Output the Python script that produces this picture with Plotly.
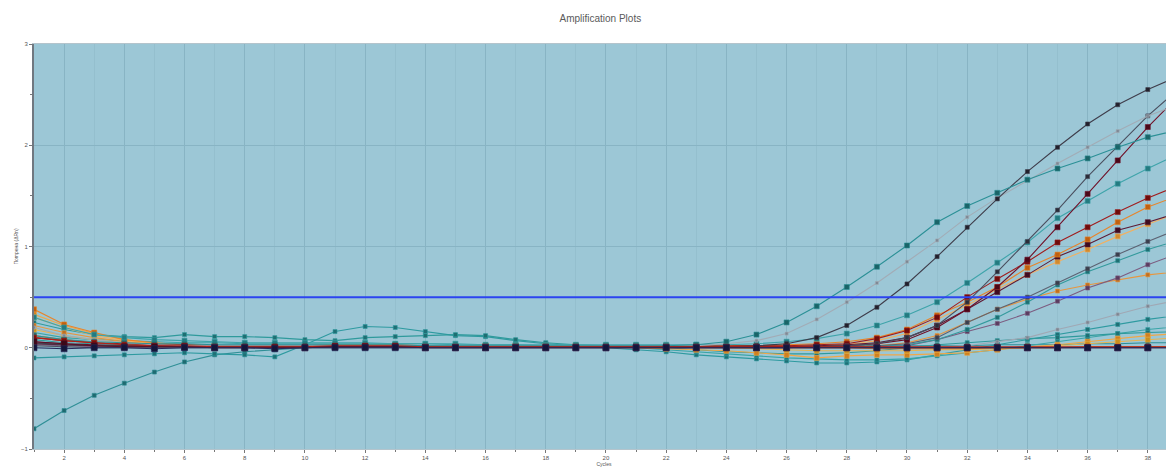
import plotly.graph_objects as go

cycles = list(range(1, 40))

teal1 = [0.12,0.08,0.06,0.05,0.04,0.04,0.03,0.03,0.03,0.03,
         0.03,0.03,0.03,0.02,0.02,0.02,0.02,0.02,0.02,0.02,
         0.02,0.02,0.03,0.06,0.13,0.25,0.41,0.60,0.80,1.01,
         1.24,1.40,1.53,1.66,1.77,1.87,1.98,2.08,2.15]
dark1 = [0.05,0.03,0.02,0.02,0.02,0.01,0.01,0.01,0.01,0.01,
         0.01,0.01,0.01,0.01,0.01,0.01,0.01,0.01,0.01,0.01,
         0.01,0.01,0.01,0.01,0.02,0.04,0.10,0.22,0.40,0.63,
         0.90,1.19,1.47,1.74,1.98,2.21,2.40,2.55,2.68]
gray1 = [0.20,0.12,0.08,0.05,0.03,0.02,0.02,0.02,0.02,0.02,
         0.02,0.02,0.02,0.02,0.02,0.02,0.02,0.02,0.02,0.02,
         0.02,0.02,0.02,0.04,0.07,0.14,0.28,0.45,0.64,0.85,
         1.06,1.29,1.48,1.65,1.82,1.98,2.14,2.29,2.40]
dark3 = [0.02,0.01,0.00,0.00,0.00,0.00,0.00,0.00,0.00,0.00,
         0.00,0.00,0.00,0.00,0.00,0.00,0.00,0.00,0.00,0.00,
         0.00,0.00,0.00,0.00,0.00,0.00,0.01,0.02,0.04,0.10,
         0.22,0.45,0.75,1.05,1.36,1.69,1.99,2.29,2.55]
maroon1 = [0.06,0.04,0.03,0.02,0.02,0.01,0.01,0.01,0.01,0.01,
           0.01,0.01,0.01,0.01,0.01,0.01,0.01,0.01,0.01,0.01,
           0.01,0.01,0.01,0.01,0.01,0.01,0.01,0.02,0.04,0.08,
           0.20,0.38,0.60,0.87,1.19,1.52,1.85,2.18,2.48]
teal2 = [0.30,0.20,0.13,0.10,0.08,0.07,0.06,0.05,0.05,0.05,
         0.05,0.05,0.04,0.04,0.04,0.03,0.03,0.03,0.03,0.03,
         0.03,0.03,0.03,0.03,0.04,0.06,0.09,0.14,0.22,0.32,
         0.45,0.64,0.84,1.04,1.28,1.45,1.62,1.77,1.91]
red1 = [0.10,0.07,0.05,0.04,0.03,0.03,0.02,0.02,0.02,0.02,
        0.02,0.02,0.02,0.02,0.02,0.02,0.02,0.02,0.02,0.02,
        0.02,0.02,0.02,0.02,0.02,0.02,0.03,0.04,0.09,0.17,
        0.30,0.50,0.68,0.85,1.04,1.19,1.34,1.48,1.60]
orange1 = [0.38,0.23,0.15,0.08,0.05,0.03,0.02,0.02,0.02,0.02,
           0.02,0.02,0.02,0.02,0.02,0.02,0.02,0.02,0.02,0.02,
           0.02,0.02,0.02,0.02,0.02,0.03,0.04,0.06,0.10,0.18,
           0.32,0.45,0.60,0.79,0.92,1.07,1.24,1.39,1.50]
maroon2 = [0.04,0.03,0.02,0.02,0.01,0.01,0.01,0.01,0.01,0.01,
           0.01,0.01,0.01,0.01,0.01,0.01,0.01,0.01,0.01,0.01,
           0.01,0.01,0.01,0.01,0.01,0.01,0.02,0.03,0.05,0.10,
           0.22,0.38,0.55,0.72,0.90,1.02,1.16,1.24,1.33]
orange2 = [0.30,0.20,0.12,0.07,0.04,0.03,0.02,0.02,0.02,0.02,
           0.02,0.02,0.02,0.02,0.02,0.02,0.02,0.02,0.02,0.02,
           0.02,0.02,0.02,0.02,0.02,0.02,0.02,0.03,0.07,0.14,
           0.28,0.42,0.58,0.72,0.85,0.97,1.10,1.22,1.33]
gray2 = [0.04,0.03,0.02,0.01,0.01,0.01,0.01,0.01,0.01,0.01,
         0.01,0.01,0.01,0.01,0.01,0.01,0.01,0.01,0.01,0.01,
         0.01,0.01,0.01,0.01,0.01,0.01,0.01,0.01,0.02,0.04,
         0.10,0.25,0.38,0.50,0.64,0.78,0.92,1.05,1.17]
teal3 = [0.08,0.05,0.04,0.03,0.03,0.02,0.02,0.02,0.02,0.02,
         0.02,0.02,0.02,0.02,0.02,0.02,0.02,0.02,0.02,0.02,
         0.01,0.01,0.01,0.01,0.01,0.01,0.01,0.01,0.02,0.03,
         0.08,0.18,0.30,0.45,0.62,0.75,0.86,0.97,1.06]
mauve1 = [0.03,0.02,0.01,0.01,0.01,0.01,0.01,0.01,0.01,0.01,
          0.01,0.01,0.01,0.01,0.01,0.01,0.01,0.01,0.01,0.01,
          0.01,0.01,0.01,0.01,0.01,0.01,0.01,0.01,0.01,0.02,
          0.08,0.16,0.24,0.34,0.46,0.59,0.69,0.82,0.93]
orange3 = [0.22,0.15,0.10,0.06,0.04,0.03,0.02,0.02,0.02,0.02,
           0.02,0.02,0.02,0.02,0.02,0.02,0.02,0.02,0.02,0.02,
           0.01,0.01,0.01,0.01,0.01,0.01,0.01,0.01,0.02,0.05,
           0.12,0.25,0.38,0.48,0.56,0.62,0.67,0.72,0.75]
gray3 = [0.05,0.03,0.02,0.02,0.01,0.01,0.01,0.01,0.01,0.01,
         0.01,0.01,0.01,0.01,0.01,0.01,0.01,0.01,0.01,0.01,
         0.01,0.01,0.00,0.00,0.00,0.00,0.00,0.00,0.00,0.01,
         0.01,0.02,0.06,0.10,0.18,0.25,0.33,0.41,0.47]
teal_b = [-0.10,-0.09,-0.08,-0.07,-0.06,-0.05,-0.06,-0.07,-0.09,0.03,
          0.16,0.21,0.20,0.16,0.12,0.11,0.07,0.04,0.02,0.00,
          -0.02,-0.04,-0.07,-0.09,-0.11,-0.13,-0.15,-0.15,-0.14,-0.12,
          -0.07,-0.02,0.03,0.08,0.13,0.18,0.23,0.28,0.32]
teal5 = [0.15,0.10,0.08,0.07,0.06,0.05,0.05,0.04,0.04,0.04,
         0.04,0.04,0.04,0.04,0.03,0.03,0.03,0.02,0.02,0.01,
         0.00,-0.02,-0.04,-0.06,-0.08,-0.10,-0.11,-0.12,-0.12,-0.11,
         -0.08,-0.05,-0.02,0.02,0.06,0.10,0.14,0.18,0.21]
teal_low = [-0.80,-0.62,-0.47,-0.35,-0.24,-0.14,-0.07,-0.04,-0.02,0.00,
            0.01,0.02,0.02,0.02,0.02,0.02,0.02,0.02,0.02,0.02,
            0.02,0.02,0.02,0.02,0.02,0.02,0.02,0.02,0.02,0.02,
            0.02,0.02,0.03,0.03,0.03,0.04,0.04,0.05,0.05]
teal_hi = [0.25,0.18,0.13,0.11,0.10,0.13,0.11,0.11,0.10,0.08,
           0.07,0.10,0.11,0.12,0.13,0.12,0.08,0.05,0.03,0.02,
           0.01,0.00,-0.02,-0.04,-0.05,-0.06,-0.06,-0.05,-0.03,0.00,
           0.03,0.05,0.07,0.09,0.10,0.12,0.14,0.15,0.16]
orange_dip = [0.33,0.22,0.14,0.08,0.04,0.02,0.02,0.01,0.01,0.01,
              0.01,0.01,0.01,0.01,0.01,0.01,0.01,0.01,0.01,0.01,
              0.00,-0.01,-0.02,-0.03,-0.05,-0.07,-0.10,-0.08,-0.07,-0.07,
              -0.06,-0.05,-0.02,0.01,0.03,0.06,0.09,0.12,0.14]
navy_flat = [0.00,-0.01,0.00,0.00,-0.01,0.00,0.00,0.00,-0.01,0.00,
             0.00,0.00,0.00,0.00,0.00,0.00,0.00,0.00,0.00,0.00,
             0.00,0.00,0.00,0.00,0.00,0.00,0.00,0.00,0.00,0.00,
             0.00,0.00,0.00,0.00,0.00,0.00,0.00,0.00,0.00]
maroon_flat = [0.06,0.04,0.02,0.01,0.01,0.01,0.00,0.00,0.00,0.00,
               0.01,0.01,0.01,0.00,0.00,0.00,0.00,0.00,0.00,0.00,
               0.00,0.00,0.00,0.00,0.00,0.00,0.00,0.00,0.00,0.00,
               0.00,0.00,0.00,0.00,0.00,0.00,0.00,0.00,0.00]
red_flat = [0.10,0.07,0.05,0.03,0.02,0.02,0.01,0.01,0.01,0.01,
            0.02,0.02,0.02,0.01,0.01,0.01,0.01,0.01,0.01,0.01,
            0.01,0.01,0.01,0.01,0.01,0.01,0.01,0.01,0.01,0.01,
            0.01,0.01,0.01,0.01,0.01,0.01,0.01,0.01,0.01]
orange_flat = [0.12,0.08,0.05,0.03,0.02,0.02,0.02,0.02,0.02,0.02,
               0.03,0.03,0.03,0.02,0.02,0.02,0.02,0.02,0.02,0.01,
               0.01,0.01,0.01,0.01,0.00,0.00,0.00,0.00,-0.01,-0.01,
               -0.01,-0.01,0.00,0.00,0.00,0.01,0.01,0.01,0.01]
yellow_flat = [0.18,0.12,0.08,0.05,0.03,0.02,0.02,0.02,0.02,0.02,
               0.02,0.02,0.02,0.02,0.02,0.02,0.02,0.02,0.02,0.01,
               0.01,0.01,0.00,0.00,-0.01,-0.02,-0.03,-0.03,-0.03,-0.03,
               -0.02,-0.02,-0.01,0.00,0.02,0.04,0.06,0.08,0.10]

THRESHOLD = 0.5
x_tick_vals = list(range(2, 40, 2))
y_tick_vals = [-1, 0, 1, 2, 3]

series = [
    ("teal_low", teal_low, "#2f8f96", "#1f6a70", 4),
    ("teal_b", teal_b, "#2e9aa0", "#1f6f75", 4),
    ("teal5", teal5, "#3aa5a8", "#227a80", 4),
    ("teal_hi", teal_hi, "#2f9a9c", "#1f6e72", 4),
    ("orange_dip", orange_dip, "#f0a848", "#d08020", 5),
    ("yellow_flat", yellow_flat, "#e8b450", "#c89020", 5),
    ("orange_flat", orange_flat, "#e87c22", "#b85a10", 5),
    ("gray3", gray3, "#a0a8b4", "#7c8490", 3),
    ("orange3", orange3, "#e8963e", "#c07020", 4),
    ("mauve1", mauve1, "#7c5c80", "#5a3c60", 4),
    ("teal3", teal3, "#339a9c", "#1f6e72", 4),
    ("gray2", gray2, "#5c6272", "#3a3e4c", 4),
    ("orange2", orange2, "#f2b060", "#d08a30", 5),
    ("maroon2", maroon2, "#5e1a34", "#3e0c20", 5),
    ("orange1", orange1, "#e8842a", "#c06010", 5),
    ("red1", red1, "#a01c1c", "#6e0c0c", 5),
    ("teal2", teal2, "#3ea4aa", "#247a80", 5),
    ("maroon1", maroon1, "#701028", "#4a0818", 5),
    ("dark3", dark3, "#4a4e5e", "#2a2c38", 4),
    ("gray1", gray1, "#a2acb6", "#7e8894", 3),
    ("dark1", dark1, "#3e3c4a", "#22202c", 4),
    ("teal1", teal1, "#2b9096", "#1a6468", 5),
    ("red_flat", red_flat, "#b02218", "#7a1008", 5),
    ("maroon_flat", maroon_flat, "#5a1028", "#3a0818", 6),
    ("navy_flat", navy_flat, "#262a5c", "#14163a", 6),
]

fig = go.Figure()
for name, vals, col, mcol, msize in series:
    fig.add_trace(go.Scatter(
        x=cycles, y=vals, name=name, mode="lines+markers",
        line=dict(color=col, width=1.1),
        marker=dict(symbol="square", size=msize, color=mcol,
                    line=dict(color=col, width=0.6)),
        showlegend=False, hoverinfo="skip"))

fig.add_shape(type="line", xref="paper", x0=0, x1=1, yref="y",
              y0=THRESHOLD, y1=THRESHOLD,
              line=dict(color="#2b44f0", width=2))
# right plot-area border (blue)
fig.add_shape(type="line", xref="paper", x0=1, x1=1, yref="paper",
              y0=0, y1=1, line=dict(color="#4a6cf0", width=2))

# page body has an 8px default margin: figure spans page x 8..1174, y 8..468
fig.update_layout(
    width=1166, height=460,
    margin=dict(l=26, r=0, t=36, b=19, autoexpand=False),
    paper_bgcolor="white", plot_bgcolor="#9cc7d6",
    title=dict(text="Amplification Plots", x=0.508, xanchor="center",
               y=0.985, yanchor="top",
               font=dict(family="Liberation Sans, Arial", size=10, color="#5a5a5a")),
    font=dict(family="Liberation Sans, Arial", size=6, color="#555555"),
)
fig.update_xaxes(range=[1, 38.87], tickvals=x_tick_vals, automargin=False,
                 showgrid=True, gridcolor="#88b4c4", gridwidth=1,
                 minor=dict(dtick=1, tick0=1, showgrid=True, gridcolor="#94bfce",
                            ticks="outside", ticklen=2, tickcolor="#777777"),
                 ticks="outside", ticklen=3, tickcolor="#777777",
                 tickfont=dict(size=6, color="#555555"),
                 showline=True, mirror=True, linecolor="#b4c4cc", linewidth=1,
                 zeroline=False,
                 title=dict(text="Cycles", font=dict(size=5, color="#555555"), standoff=0))
fig.update_yaxes(range=[-1, 3], tickvals=y_tick_vals, automargin=False,
                 showgrid=True, gridcolor="#88b4c4", gridwidth=1,
                 minor=dict(dtick=0.5, showgrid=False,
                            ticks="outside", ticklen=2, tickcolor="#777777"),
                 ticks="outside", ticklen=3, tickcolor="#777777",
                 tickfont=dict(size=6, color="#555555"),
                 showline=True, linecolor="#707880", linewidth=2, zeroline=False,
                 title=dict(text="Поmpена (ΔRn)", font=dict(size=5, color="#555555"), standoff=2))

fig.write_html("out.html")
